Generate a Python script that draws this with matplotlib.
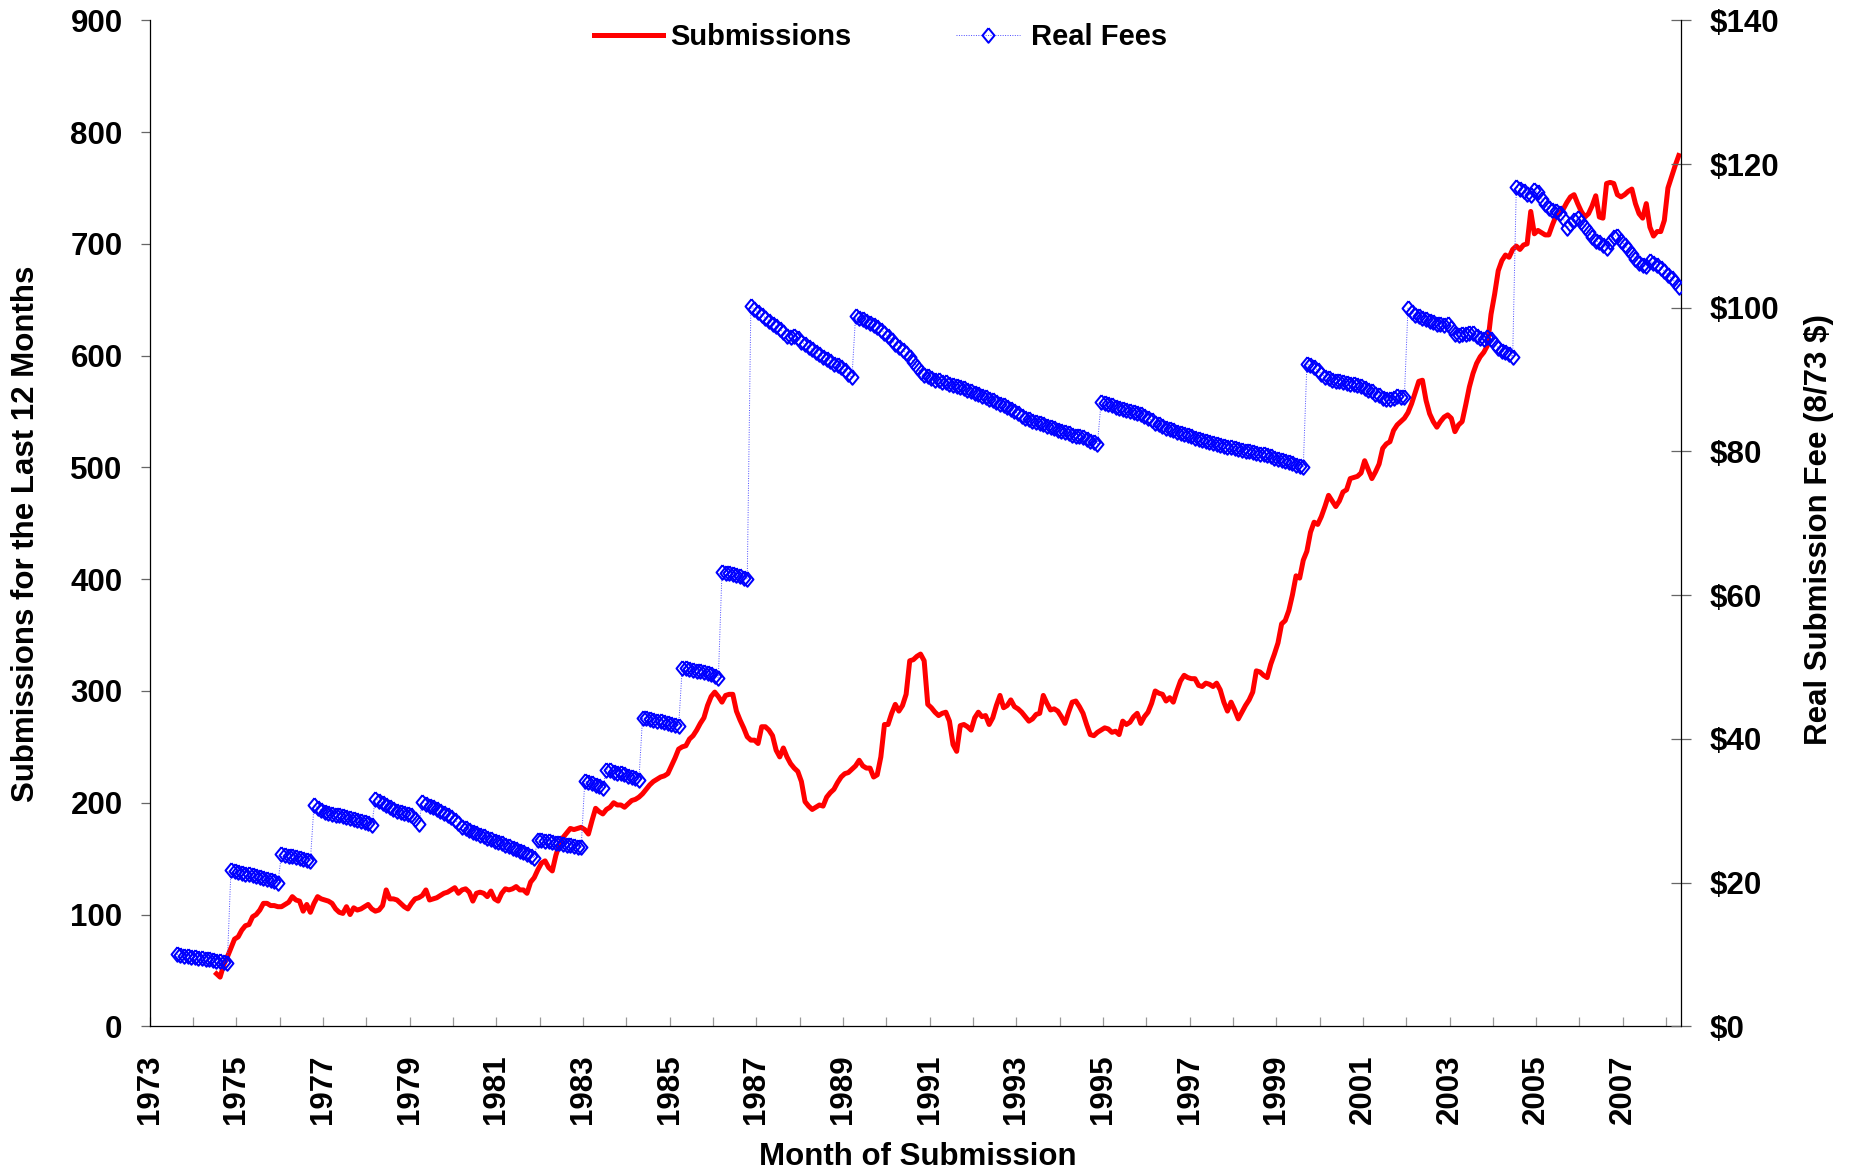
import numpy as np
import matplotlib
matplotlib.use("Agg")
import matplotlib.pyplot as plt
from matplotlib import font_manager as fm

# ---------------- data ----------------
# Submissions for the last 12 months, monthly, first value = July 1974
sub_start = (1974, 7)
submissions = [
    47, 44, 55, 62, 70, 78, 80, 86, 90, 91,
    98, 100, 104, 110, 110, 108, 108, 107, 107, 109,
    111, 116, 113, 112, 103, 109, 102, 110, 116, 114,
    113, 112, 110, 105, 102, 101, 107, 100, 106, 104,
    105, 107, 109, 105, 103, 104, 108, 122, 114, 114,
    113, 110, 107, 105, 110, 114, 115, 117, 122, 113,
    114, 115, 117, 119, 120, 122, 124, 119, 122, 123,
    120, 112, 119, 120, 119, 116, 121, 114, 112, 119,
    123, 122, 123, 125, 122, 122, 119, 129, 133, 140,
    146, 148, 142, 139, 153, 163, 169, 173, 177, 176,
    177, 178, 176, 172, 184, 195, 192, 190, 194, 196,
    200, 198, 198, 196, 199, 202, 203, 205,
    208, 212, 216, 219, 221, 223, 224, 226, 233, 240,
    248, 250, 251, 257, 260, 265, 271, 276, 287, 295,
    299, 295, 290, 296, 297, 297, 282, 274, 267, 259,
    256, 256, 253, 268, 268, 265, 260, 247, 241, 249,
    241, 235, 231, 228, 219, 201, 197, 194, 196, 198,
    197, 205, 209, 212, 218, 223, 226, 227, 230, 233,
    238, 233, 231, 231, 223, 225, 241, 270, 270, 280,
    288, 282, 287, 297, 327, 328, 331, 333, 327, 288,
    285, 281, 278, 280, 281, 273, 252, 246, 269, 270,
    268, 265, 276, 281, 277, 278, 270, 276, 287, 296,
    285, 287, 292, 286, 284, 281, 277, 273, 275, 279,
    280, 296, 289, 283,
    284, 282, 277, 271, 281, 290, 291, 286, 280, 270,
    261, 260, 263, 265, 267, 266, 263, 264, 261, 273,
    270, 272, 277, 280, 271, 277, 281, 289, 300, 298,
    297, 291, 294, 290, 300, 309, 314, 312, 311, 311,
    305, 304, 307, 306, 304, 307, 301, 290, 282, 290,
    283, 275, 281, 287, 292, 299, 318, 317, 314, 312,
    324, 333, 343, 360, 363, 372, 386, 403, 401, 417,
    425, 442, 451, 449, 456, 465, 475, 470, 465, 470,
    478, 480, 490, 491, 492, 495, 506, 498, 490, 496,
    503, 517, 521, 523, 533, 538, 541, 544, 549, 557,
    567, 577, 578, 560, 548, 541, 536, 541, 545, 547,
    544,
    532, 538, 541, 556, 572, 584, 593, 599, 603, 609,
    637, 655, 676, 685, 690, 688, 695, 698, 695, 699,
    700, 729, 709, 712, 710, 708, 708, 717, 725, 728,
    731, 737, 742, 744, 736, 729, 724, 727, 734, 743,
    724, 723, 754, 755, 754, 744, 742, 744, 747, 749,
    736, 727, 723, 736, 715, 707, 711, 711, 721, 750,
    760, 770, 779,
]

# Real submission fee in 8/73 dollars, monthly, first value = August 1973
fee_start = (1973, 8)
real_fees = [
    10.00, 9.92, 9.85, 9.79, 9.71, 9.62, 9.52, 9.45, 9.38, 9.30, 9.21, 9.12, 9.03, 8.94, 8.86,
    21.72, 21.58, 21.47, 21.36, 21.25, 21.14, 21.03, 20.90, 20.77, 20.64, 20.50, 20.36, 20.20, 19.95,
    23.94, 23.85, 23.75, 23.65, 23.55, 23.45, 23.35, 23.20, 23.05,
    30.74, 30.40, 30.05, 29.80, 29.65, 29.58, 29.45, 29.35, 29.20, 29.10, 29.00, 28.90, 28.75,
    28.60, 28.45, 28.25, 28.00,
    31.67, 31.35, 31.05, 30.74, 30.50, 30.25, 30.00, 29.85, 29.70, 29.50, 29.35, 28.80, 28.10,
    31.20, 30.95, 30.70, 30.45, 30.22, 30.00, 29.75, 29.45, 29.18, 28.70, 28.25, 27.80, 27.55,
    27.30, 27.05, 26.85, 26.65, 26.45, 26.25, 26.05, 25.85, 25.65, 25.45, 25.25, 25.05, 24.85,
    24.65, 24.45, 24.25, 24.00, 23.75, 23.45,
    25.98, 25.90, 25.80, 25.72, 25.65, 25.55, 25.45, 25.35, 25.25, 25.18, 25.10, 25.02, 24.95,
    34.13, 33.95, 33.80, 33.60, 33.40, 33.23,
    35.72, 35.60, 35.45, 35.30, 35.20, 35.05, 34.90, 34.75, 34.55, 34.30,
    42.93, 42.85, 42.75, 42.65, 42.55, 42.45, 42.35, 42.25, 42.10, 41.95, 41.80,
    49.93, 49.80, 49.70, 49.60, 49.50, 49.40, 49.30, 49.15, 49.00, 48.80, 48.50,
    63.20, 63.15, 63.10, 62.90, 62.75, 62.60, 62.40, 62.20,
    100.2, 99.8, 99.4, 99.0, 98.6, 98.2, 97.8, 97.4, 97.0, 96.6, 96.1, 95.9, 96.0, 95.8, 95.3,
    94.9, 94.5, 94.2, 93.8, 93.5, 93.2, 92.9, 92.6, 92.2, 92.0, 91.8, 91.3, 90.8, 90.3,
    98.84, 98.6, 98.4, 98.1, 97.9, 97.6, 97.3, 96.9, 96.5, 96.0, 95.5, 95.0, 94.6, 94.1, 93.7,
    93.2, 92.5, 91.8, 91.0, 90.6, 90.5, 90.2, 90.0, 89.9, 89.7, 89.6, 89.45, 89.3, 89.15, 89.0,
    88.8, 88.55, 88.35, 88.15, 87.95, 87.75, 87.55, 87.35, 87.1, 86.9, 86.6, 86.45, 86.2, 85.9,
    85.6, 85.3, 85.0, 84.7, 84.45, 84.3, 84.15, 84.0, 83.8, 83.6, 83.35, 83.2, 83.0, 82.85,
    82.65, 82.5, 82.35, 82.2, 82.1, 81.95, 81.7, 81.5, 81.3, 81.05,
    86.9, 86.75, 86.6, 86.45, 86.25, 86.1, 85.95, 85.8, 85.6, 85.45, 85.3, 85.15, 85.0, 84.7,
    84.35, 84.0, 83.75, 83.5, 83.3, 83.15, 82.95, 82.75, 82.6, 82.45, 82.3, 82.1, 81.9, 81.75,
    81.6, 81.45, 81.3, 81.15, 81.0, 80.9, 80.75, 80.65, 80.55, 80.45, 80.3, 80.2, 80.1, 80.0,
    79.9, 79.8, 79.7, 79.6, 79.45, 79.3, 79.15, 79.0, 78.85, 78.7, 78.55, 78.35, 78.15, 78.0, 77.85,
    92.2, 92.0, 91.7, 91.3, 90.8, 90.4, 90.2, 90.0, 89.85, 89.75, 89.65, 89.55, 89.45, 89.4,
    89.3, 89.1, 88.85, 88.6, 88.35, 88.0, 87.8, 87.5, 87.25, 87.3, 87.5, 87.7, 87.6, 87.6,
    99.95, 99.4, 99.0, 98.8, 98.6, 98.4, 98.2, 98.0, 97.8, 97.7, 97.6, 97.8, 97.2, 96.4, 96.2,
    96.3, 96.4, 96.5, 96.5, 96.1, 95.8, 95.6, 95.9, 95.7, 95.0, 94.4, 94.0, 93.8, 93.5, 93.2,
    116.85, 116.5, 116.25, 115.8, 115.7, 116.4, 116.1, 115.2, 114.5, 113.85, 113.6, 113.5,
    113.15, 112.45, 111.15, 111.6, 112.2, 112.45, 112.0, 111.3, 110.6, 109.9, 109.3, 109.1,
    108.75, 108.3, 109.1, 109.9, 110.05, 109.3, 108.75, 108.2, 107.45, 106.8, 106.2, 105.9,
    105.75, 106.45, 106.25, 106.0, 105.5, 105.15, 104.6, 104.1, 103.55, 102.95,
]

year_ticks = list(range(1973, 2009))
year_labels = [str(y) if y % 2 == 1 else "" for y in year_ticks]
left_ticks = list(range(0, 901, 100))
right_ticks = list(range(0, 141, 20))
right_labels = ["$%d" % v for v in right_ticks]

series_names = ["Submissions", "Real Fees"]
left_title = "Submissions for the Last 12 Months"
right_title = "Real Submission Fee (8/73 $)"
x_title = "Month of Submission"


def month_positions(start, n):
    y, m = start
    return y + (m - 0.5) / 12.0 + np.arange(n) / 12.0


# ---------------- figure ----------------
W, H = 1856, 1171
plt.rcParams["font.family"] = ["Liberation Sans", "DejaVu Sans"]
plt.rcParams["font.weight"] = "bold"

fig = plt.figure(figsize=(W / 100, H / 100), dpi=100)
L, R, T, B = 149.7, 1681.3, 20.3, 1026.3
ax = fig.add_axes([L / W, 1 - B / H, (R - L) / W, (B - T) / H])
ax2 = ax.twinx()

xs = month_positions(sub_start, len(submissions))
xf = month_positions(fee_start, len(real_fees))

red_line, = ax.plot(xs, submissions, color="#FF0000", lw=3.6, zorder=3)

diamond = [(0, 1), (0.82, 0), (0, -1), (-0.82, 0), (0, 1)]
fee_line, = ax2.plot(xf, real_fees, color="#4B4BFF", lw=0.7, ls=(0, (1, 1.5)),
                     marker=diamond, ms=10.5, mfc="none", mec="#0000FF", mew=1.45,
                     zorder=4)

ax.set_xlim(1973.0, 2008.35)
ax.set_ylim(0, 900)
ax2.set_ylim(0, 140)

ax.set_xticks(year_ticks)
ax.set_xticklabels(year_labels, rotation=90, fontsize=22.5, fontweight="bold")
ax.set_yticks(left_ticks)
ax.set_yticklabels([str(v) for v in left_ticks], fontsize=22.5, fontweight="bold")
ax2.set_yticks(right_ticks)
ax2.set_yticklabels(right_labels, fontsize=22.5, fontweight="bold")

ax.tick_params(axis="x", direction="in", length=6.5, width=0.9, color="#999999", pad=20)
ax.tick_params(axis="y", direction="out", length=6.5, width=0.9, color="#666666", pad=13)
ax2.tick_params(axis="y", direction="inout", length=14, width=0.9, color="#666666", pad=13.5)

for a in (ax, ax2):
    a.spines["top"].set_visible(False)
    for s in ("left", "right", "bottom"):
        a.spines[s].set_linewidth(0.9)
        a.spines[s].set_color("black")
ax.spines["right"].set_visible(False)
ax2.spines["left"].set_visible(False)
ax2.spines["bottom"].set_visible(False)

# axis titles
fig.text(26 / W, 1 - 534 / H, left_title, rotation=90, ha="center", va="center",
         fontsize=22.5, fontweight="bold")
fig.text(1819 / W, 1 - 530 / H, right_title, rotation=90, ha="center", va="center",
         fontsize=22.5, fontweight="bold")
fig.text(918 / W, 1 - 1165 / H, x_title, ha="center", va="baseline",
         fontsize=22.5, fontweight="bold")

# legend (two single-entry legends placed where the reference puts them)
leg_prop = fm.FontProperties(family=["Liberation Sans", "DejaVu Sans"], weight="bold", size=21)
fs_px = 21 * 100 / 72.0

leg1 = ax2.legend([red_line], [series_names[0]], loc="center left",
                  bbox_to_anchor=(594 / W, 1 - 37 / H), bbox_transform=fig.transFigure,
                  frameon=False, borderpad=0, borderaxespad=0, handlelength=69 / fs_px,
                  handletextpad=7 / fs_px, prop=leg_prop)
ax2.add_artist(leg1)
leg2 = ax2.legend([fee_line], [series_names[1]], loc="center left",
                  bbox_to_anchor=(956 / W, 1 - 37 / H), bbox_transform=fig.transFigure,
                  frameon=False, borderpad=0, borderaxespad=0, handlelength=64 / fs_px,
                  handletextpad=11 / fs_px, prop=leg_prop, numpoints=1)

fig.savefig("out.png", dpi=100)
